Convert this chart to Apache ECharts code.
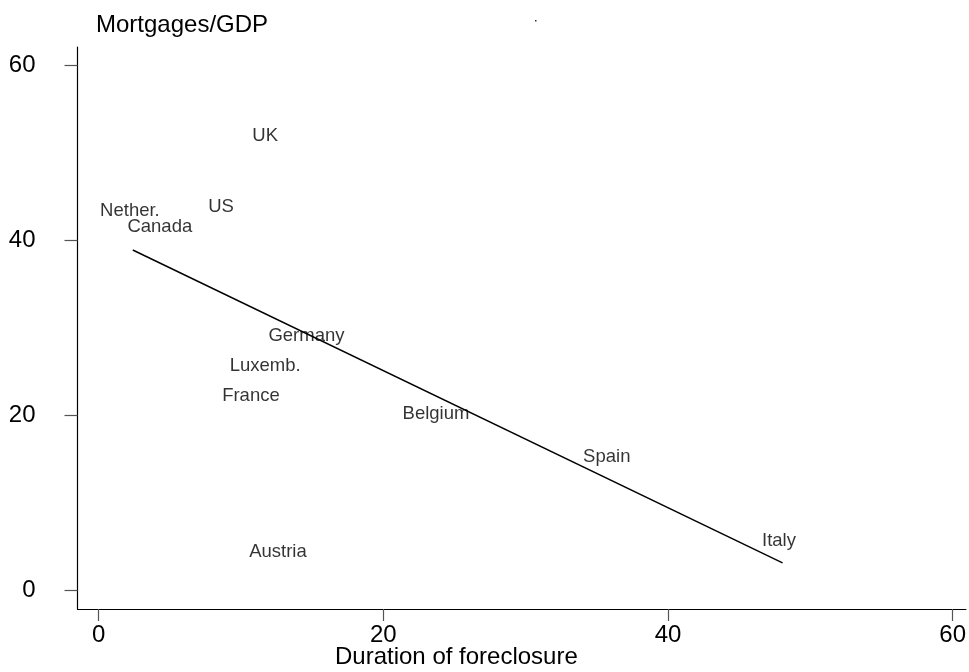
<!DOCTYPE html>
<html>
<head>
<meta charset="utf-8">
<script src="https://cdn.jsdelivr.net/npm/echarts@6/dist/echarts.min.js"></script>
<style>
html,body{margin:0;padding:0;background:#fff;}
#chart{width:969px;height:672px;}
</style>
</head>
<body>
<div id="chart"></div>
<script>
// Country labels and their positions (duration of foreclosure, mortgages/GDP)
const countries = ['UK','US','Nether.','Canada','Germany','Luxemb.','France','Belgium','Austria','Spain','Italy'];
const duration  = [11.7, 8.6, 2.2, 4.3, 14.6, 11.7, 10.7, 23.7, 12.6, 35.7, 47.8];
const mortgages = [51.9, 43.8, 43.3, 41.5, 29.0, 25.6, 22.2, 20.1, 4.4, 15.2, 5.6];
// Fitted line endpoints
const fitX = [2.4, 48.05];
const fitY = [38.86, 3.09];
const tickValues = [0, 20, 40, 60];

const FONT = "'Liberation Sans', Arial, sans-serif";

const chart = echarts.init(document.getElementById('chart'), null, {renderer: 'canvas'});

const scatterData = countries.map((c, i) => ({name: c, value: [duration[i], mortgages[i]]}));
const lineData = fitX.map((x, i) => [x, fitY[i]]);

const option = {
  animation: false,
  backgroundColor: '#ffffff',
  grid: {left: 77.5, top: 47, right: 0, bottom: 63, containLabel: false},
  xAxis: {
    type: 'value',
    min: -1.484, max: 60.93,
    splitLine: {show: false},
    axisLine: {show: true, onZero: false, lineStyle: {color: '#000', width: 1.2}},
    axisTick: {show: true, customValues: tickValues, length: 12, lineStyle: {color: '#555', width: 1.2}},
    axisLabel: {show: true, customValues: tickValues, margin: 14, color: '#000', fontSize: 24, fontFamily: FONT}
  },
  yAxis: {
    type: 'value',
    min: -2.17, max: 62.06,
    splitLine: {show: false},
    axisLine: {show: true, onZero: false, lineStyle: {color: '#000', width: 1.2}},
    axisTick: {show: true, customValues: tickValues, length: 13, lineStyle: {color: '#555', width: 1.2}},
    axisLabel: {show: true, customValues: tickValues, margin: 42, color: '#000', fontSize: 24, fontFamily: FONT}
  },
  graphic: [
    {type: 'text', left: 96, top: 13, style: {text: 'Mortgages/GDP', fill: '#000', font: '24px ' + FONT}},
    {type: 'text', left: 335, top: 645, style: {text: 'Duration of foreclosure', fill: '#000', font: '24px ' + FONT}},
    {type: 'rect', left: 535, top: 20, shape: {width: 1.5, height: 1.5}, style: {fill: '#333'}}
  ],
  series: [
    {
      type: 'scatter',
      data: scatterData,
      symbol: 'circle',
      symbolSize: 1,
      itemStyle: {color: 'rgba(0,0,0,0)'},
      label: {
        show: true, position: 'inside',
        formatter: p => p.name,
        color: '#000', fontSize: 18.5, fontFamily: FONT
      },
      z: 3
    },
    {
      type: 'line',
      data: lineData,
      symbol: 'none',
      lineStyle: {color: '#000', width: 1.4},
      z: 2
    }
  ]
};
chart.setOption(option);
</script>
</body>
</html>
